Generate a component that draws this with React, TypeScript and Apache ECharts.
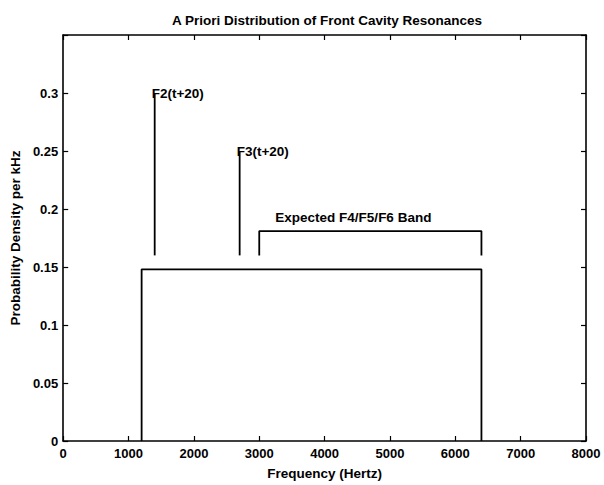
import React, { useEffect, useRef } from "react";
import * as echarts from "echarts";

const xTicks = [0, 1000, 2000, 3000, 4000, 5000, 6000, 7000, 8000];
const priorBox: [number, number][] = [
  [1200, 0],
  [1200, 0.148],
  [6400, 0.148],
  [6400, 0],
];
const f2Line: [number, number][] = [
  [1400, 0.16],
  [1400, 0.3],
];
const f3Line: [number, number][] = [
  [2700, 0.16],
  [2700, 0.25],
];
const bandBracket: [number, number][] = [
  [3000, 0.16],
  [3000, 0.181],
  [6400, 0.181],
  [6400, 0.16],
];
const bandLabelPos: [number, number] = [4440, 0.193];
const labels = ["F2(t+20)", "F3(t+20)", "Expected F4/F5/F6 Band"];

const FONT = "Liberation Sans, Arial, Helvetica, sans-serif";
const TICK_FS = 13;
const TEXT_FS = 13.5;

export default function App() {
  const ref = useRef<HTMLDivElement>(null);
  useEffect(() => {
    if (!ref.current) return;
    const chart = echarts.init(ref.current, undefined, { renderer: "svg" });
    const lineStyle = { color: "#000", width: 1.8 };
    const axisCommon = {
      axisLine: { show: true, onZero: false, lineStyle: { color: "#000", width: 1.6 } },
      axisTick: { show: true, inside: true, length: 5, lineStyle: { color: "#000", width: 1.2 } },
      splitLine: { show: false },
    };
    const textLabel = (text: string, position: string, distance: number) => ({
      show: true,
      position,
      distance,
      formatter: text,
      color: "#000",
      opacity: 1,
      textBorderWidth: 0,
      fontFamily: FONT,
      fontWeight: "bold",
      fontSize: TEXT_FS,
    });
    chart.setOption({
      animation: false,
      backgroundColor: "#fff",
      title: {
        text: "A Priori Distribution of Front Cavity Resonances",
        left: 322,
        textAlign: "center",
        top: 8,
        textStyle: { fontFamily: FONT, fontWeight: "bold", fontSize: TEXT_FS, color: "#000" },
      },
      grid: { left: 59, right: 18, top: 35, bottom: 35 },
      xAxis: [
        {
          type: "value",
          min: 0,
          max: 8000,
          interval: 1000,
          position: "bottom",
          name: "Frequency (Hertz)",
          nameLocation: "middle",
          nameGap: 25,
          nameTextStyle: { fontFamily: FONT, fontWeight: "bold", fontSize: TEXT_FS, color: "#000" },
          axisLabel: {
            color: "#000",
            fontFamily: FONT,
            fontWeight: "bold",
            fontSize: TICK_FS,
            margin: 6,
            formatter: (v: number) => (xTicks.includes(v) ? String(v) : ""),
          },
          ...axisCommon,
        },
        {
          type: "value",
          min: 0,
          max: 8000,
          interval: 1000,
          position: "top",
          axisLabel: { show: false },
          ...axisCommon,
        },
      ],
      yAxis: [
        {
          type: "value",
          min: 0,
          max: 0.35,
          interval: 0.05,
          position: "left",
          name: "Probability Density per kHz",
          nameLocation: "middle",
          nameGap: 36,
          nameTextStyle: { fontFamily: FONT, fontWeight: "bold", fontSize: TEXT_FS, color: "#000" },
          axisLabel: {
            color: "#000",
            fontFamily: FONT,
            fontWeight: "bold",
            fontSize: TICK_FS,
            margin: 5,
            formatter: (v: number) => (v > 0.34 ? "" : String(Math.round(v * 100) / 100)),
          },
          ...axisCommon,
        },
        {
          type: "value",
          min: 0,
          max: 0.35,
          interval: 0.05,
          position: "right",
          axisLabel: { show: false },
          ...axisCommon,
        },
      ],
      series: [
        {
          type: "line",
          data: priorBox,
          symbol: "none",
          lineStyle,
          silent: true,
        },
        {
          type: "line",
          data: [f2Line[0], { value: f2Line[1], label: textLabel(labels[0], "right", -3) }],
          symbol: "circle",
          symbolSize: 0,
          showSymbol: true,
          lineStyle,
          silent: true,
        },
        {
          type: "line",
          data: [f3Line[0], { value: f3Line[1], label: textLabel(labels[1], "right", -3) }],
          symbol: "circle",
          symbolSize: 0,
          showSymbol: true,
          lineStyle,
          silent: true,
        },
        {
          type: "line",
          data: bandBracket,
          symbol: "none",
          lineStyle,
          silent: true,
        },
        {
          type: "line",
          data: [{ value: bandLabelPos, label: textLabel(labels[2], "inside", 0) }],
          symbol: "circle",
          symbolSize: 0,
          showSymbol: true,
          lineStyle,
          itemStyle: { color: "#000" },
          silent: true,
        },
      ],
    });
    return () => chart.dispose();
  }, []);
  return <div ref={ref} style={{ width: 604, height: 485, position: "absolute", left: 0, top: 0 }} />;
}
